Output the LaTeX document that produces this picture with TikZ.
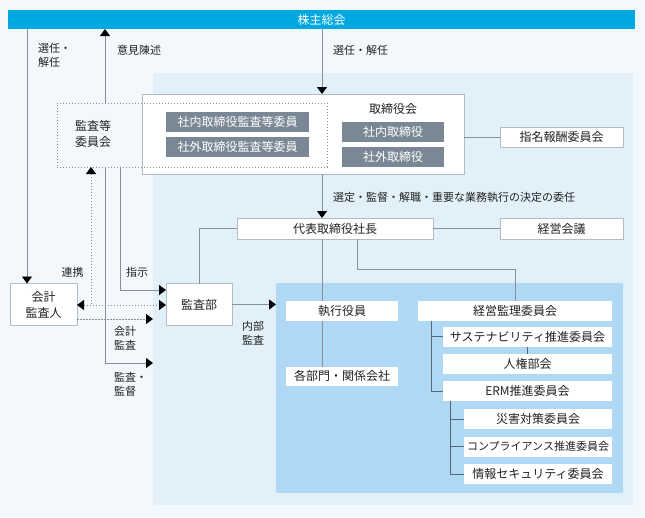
\documentclass[tikz,border=0pt]{standalone}
\usepackage{fontspec}
\setmainfont{Noto Sans CJK JP}
\usetikzlibrary{arrows.meta}
\definecolor{outerbg}{HTML}{F3F8FC}
\definecolor{innerbg}{HTML}{E2F0FA}
\definecolor{darkbg}{HTML}{AED8F3}
\definecolor{barblue}{HTML}{00A8E1}
\definecolor{slate}{HTML}{7A8896}
\definecolor{bordergray}{HTML}{B4BBC2}
\definecolor{linegray}{HTML}{8A9097}
\definecolor{treegray}{HTML}{566878}
\definecolor{txt}{HTML}{222222}
\tikzset{mytip/.tip={Triangle[width=10pt,length=7pt,color=black]}}
\begin{document}
\begin{tikzpicture}[x=1pt,y=-1pt,
 every node/.style={inner sep=0pt, outer sep=0pt, text=txt},
 boxtext/.style={font=\fontsize{12}{16}\selectfont},
 wbox/.style={boxtext, fill=white, draw=bordergray, line width=0.8pt},
 plainbox/.style={boxtext, fill=white},
 gbox/.style={boxtext, fill=slate, text=white},
 auditbox/.style={draw=linegray, line width=0.8pt, dash pattern=on 1pt off 2pt},
 lbl/.style={font=\fontsize{11}{14}\selectfont, align=left},
 conn/.style={draw=linegray, line width=0.9pt},
 arr/.style={conn, -mytip},
 dotline/.style={draw=linegray, line width=0.9pt, dash pattern=on 1.5pt off 1.5pt},
 tree/.style={draw=treegray, line width=0.9pt}]
\useasboundingbox (0,0) rectangle (645,517);
\fill[outerbg] (0,0) rectangle (645,517);
% regions
\node[fill=innerbg, minimum width=480pt, minimum height=432pt] (inner) at (393,289) {};
\node[fill=darkbg, minimum width=347pt, minimum height=210pt] (dark) at (449.5,388) {};
% top bar
\node[fill=barblue, boxtext, text=white, minimum width=627pt, minimum height=19pt] (bar) at (321.5,19.5) {株主総会};
% board
\node[wbox, minimum width=322pt, minimum height=80pt] (board) at (303,134) {};
\node[boxtext] (boardlbl) at (393,109) {取締役会};
\node[auditbox, minimum width=270pt, minimum height=64pt] (audit) at (192,135) {};
\node[boxtext, align=center] (auditlbl) at (93,134) {監査等\\委員会};
\node[gbox, minimum width=143pt, minimum height=20pt] (g1) at (237.5,122) {社内取締役監査等委員};
\node[gbox, minimum width=143pt, minimum height=20pt] (g2) at (237.5,147) {社外取締役監査等委員};
\node[gbox, minimum width=102pt, minimum height=20pt] (g3) at (393,132) {社内取締役};
\node[gbox, minimum width=102pt, minimum height=20pt] (g4) at (393,157) {社外取締役};
\node[wbox, minimum width=123pt, minimum height=20pt] (shimei) at (561.5,137) {指名報酬委員会};
% president
\node[wbox, minimum width=196pt, minimum height=21pt] (daihyo) at (335,228.5) {代表取締役社長};
\node[wbox, minimum width=123pt, minimum height=21pt] (keiei) at (561.5,228.5) {経営会議};
% audit dept and accountant
\node[wbox, minimum width=66pt, minimum height=42pt] (kansa) at (199,304.5) {監査部};
\node[wbox, align=center, minimum width=67pt, minimum height=42pt] (kaikei) at (43.5,304.5) {会計\\監査人};
% executive side
\node[plainbox, minimum width=112pt, minimum height=20pt] (exec) at (342,311) {執行役員};
\node[plainbox, minimum width=112pt, minimum height=19pt] (dept) at (342,376) {各部門・関係会社};
\node[plainbox, minimum width=194pt, minimum height=20pt] (kanri) at (515,311) {経営監理委員会};
\node[plainbox, minimum width=169pt, minimum height=20pt] (susta) at (527.5,336.5) {サステナビリティ推進委員会};
\node[plainbox, minimum width=169pt, minimum height=20pt] (jinken) at (527.5,364) {人権部会};
\node[plainbox, minimum width=169pt, minimum height=20pt] (erm) at (527.5,391) {ERM推進委員会};
\node[plainbox, minimum width=148pt, minimum height=20pt] (saigai) at (538,419) {災害対策委員会};
\node[plainbox, font=\fontsize{11}{14}\selectfont, minimum width=148pt, minimum height=20pt] (compl) at (538,446.5) {コンプライアンス推進委員会};
\node[plainbox, minimum width=148pt, minimum height=20pt] (joho) at (538,474) {情報セキュリティ委員会};
% helper coordinates
\coordinate (xL) at (27,0);
\coordinate (xU) at (105,0);
\coordinate (xD) at (91,0);
\coordinate (xS) at (120,0);
\coordinate (xM) at (322,0);
\coordinate (j1) at (357,269);
\coordinate (yR) at (0,305);
\coordinate (yT) at (0,319);
\coordinate (yS) at (0,290);
\coordinate (yK) at (0,363);
\coordinate (xT1) at (431,0);
\coordinate (xT2) at (450,0);
% connectors
\draw[arr] (bar.south -| xL) -- (kaikei.north -| xL);
\draw[arr] (audit.north -| xU) -- (bar.south -| xU);
\draw[arr] (bar.south -| xM) -- (board.north -| xM);
\draw[arr] (board.south -| xM) -- (daihyo.north -| xM);
\draw[conn] (board.east |- shimei.west) -- (shimei.west);
\draw[conn] (daihyo.east) -- (keiei.west);
\draw[conn] (daihyo.west) -| (kansa.north);
\draw[conn] (daihyo.south -| xM) -- (exec.north -| xM);
\draw[conn] (exec.south -| xM) -- (dept.north -| xM);
\draw[conn] (daihyo.south -| j1) -- (j1) -| (kanri.north);
\draw[arr] (audit.south -| xU) |- (inner.west |- yK);
\draw[arr] (audit.south -| xS) |- (kansa.west |- yS);
\draw[dotline, mytip-] (audit.south -| xD) -- (xD |- yR);
\draw[dotline, mytip-mytip] (kaikei.east |- yR) -- (kansa.west |- yR);
\draw[dotline, -mytip] (kaikei.east |- yT) -- (inner.west |- yT);
\draw[arr] (kansa.east) -- (dark.west |- kansa.east);
% tree
\draw[tree] (kanri.south -| xT1) |- (susta.west);
\draw[tree] (kanri.south -| xT1) |- (erm.west);
\draw[tree] (susta.south) -- (jinken.north);
\draw[tree] (erm.south -| xT2) |- (saigai.west);
\draw[tree] (erm.south -| xT2) |- (compl.west);
\draw[tree] (erm.south -| xT2) |- (joho.west);
% labels
\node[lbl, anchor=west] (l1) at (38,55) {選任・\\解任};
\node[lbl, anchor=west] (l2) at (117,50) {意見陳述};
\node[lbl, anchor=west] (l3) at (333,50) {選任・解任};
\node[lbl, anchor=west] (l4) at (333,197) {選定・監督・解職・重要な業務執行の決定の委任};
\node[lbl] (l5) at (72.5,272) {連携};
\node[lbl] (l6) at (137,272) {指示};
\node[lbl, anchor=west] (l7) at (114,338) {会計\\監査};
\node[lbl, anchor=west] (l8) at (114,384) {監査・\\監督};
\node[lbl, anchor=west] (l9) at (242,333) {内部\\監査};
\end{tikzpicture}
\end{document}
